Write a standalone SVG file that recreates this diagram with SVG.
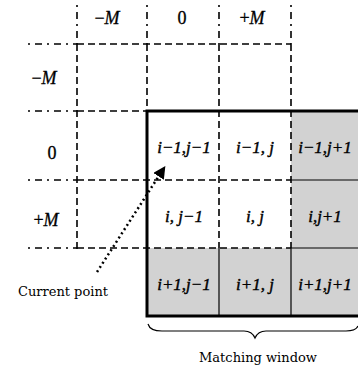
<svg xmlns="http://www.w3.org/2000/svg" width="358" height="368" viewBox="0 0 358 368">
<defs>
<style>
.dash{stroke:#000;stroke-width:1.6;stroke-dasharray:7,4;fill:none}
.dd{stroke:#000;stroke-width:1.6;stroke-dasharray:2,5,7,5;fill:none}
.thick{stroke:#000;stroke-width:3;fill:none}
.thin{stroke:#000;stroke-width:1.2;fill:none}
.lab{font-family:"Liberation Serif",serif;font-size:18px;text-anchor:middle;fill:#000;stroke:#000;stroke-width:0.3}
.cell{font-family:"Liberation Serif",serif;font-size:17px;font-style:italic;text-anchor:middle;fill:#000;stroke:#000;stroke-width:0.4}
.cap{font-family:"DejaVu Serif",serif;font-size:13px;text-anchor:middle;fill:#000}
</style>
<marker id="ah" viewBox="0 0 10 10" refX="8" refY="5" markerWidth="5" markerHeight="5" orient="auto">
<path d="M0,0 L10,5 L0,10 z" fill="#000"/>
</marker>
</defs>
<rect width="358" height="368" fill="#fff"/>
<g id="shading">
<rect x="291" y="111" width="67" height="205" fill="#d2d2d2"/>
<rect x="147" y="248" width="144" height="68" fill="#d2d2d2"/>
</g>
<g id="grid">
<line class="dd" x1="77" y1="5" x2="77" y2="44"/>
<line class="dd" x1="147" y1="5" x2="147" y2="44"/>
<line class="dd" x1="219" y1="5" x2="219" y2="44"/>
<line class="dd" x1="291" y1="5" x2="291" y2="44"/>
<line class="dash" x1="77" y1="44" x2="77" y2="252"/>
<line class="dash" x1="147" y1="44" x2="147" y2="111"/>
<line class="dash" x1="219" y1="44" x2="219" y2="248"/>
<line class="dash" x1="291" y1="44" x2="291" y2="248"/>
<line class="dd" x1="28" y1="44" x2="77" y2="44"/>
<line class="dd" x1="28" y1="111" x2="77" y2="111"/>
<line class="dd" x1="28" y1="180" x2="77" y2="180"/>
<line class="dd" x1="28" y1="248" x2="77" y2="248"/>
<line class="dash" x1="77" y1="44" x2="291" y2="44"/>
<line class="dash" x1="77" y1="111" x2="147" y2="111"/>
<line class="dash" x1="77" y1="180" x2="291" y2="180"/>
<line class="dash" x1="77" y1="248" x2="291" y2="248"/>
<line class="thin" x1="291" y1="180" x2="358" y2="180"/>
<line class="thin" x1="291" y1="248" x2="358" y2="248"/>
<line class="thin" x1="219" y1="248" x2="219" y2="316"/>
<line class="thin" x1="291" y1="248" x2="291" y2="316"/>
</g>
<g id="window">
<rect class="thick" x="147" y="111" width="214" height="205"/>
</g>
<g id="labels">
<text class="lab" x="107" y="24"><tspan>−</tspan><tspan font-style="italic">M</tspan></text>
<text class="lab" x="182" y="24">0</text>
<text class="lab" x="252" y="24"><tspan>+</tspan><tspan font-style="italic">M</tspan></text>
<text class="lab" x="44" y="84"><tspan>−</tspan><tspan font-style="italic">M</tspan></text>
<text class="lab" x="52" y="159">0</text>
<text class="lab" x="46" y="226"><tspan>+</tspan><tspan font-style="italic">M</tspan></text>
</g>
<g id="cells">
<text class="cell" x="184" y="153">i−1,j−1</text>
<text class="cell" x="255" y="153">i−1, j</text>
<text class="cell" x="325" y="153">i−1,j+1</text>
<text class="cell" x="184" y="222">i, j−1</text>
<text class="cell" x="255" y="222">i, j</text>
<text class="cell" x="325" y="222">i,j+1</text>
<text class="cell" x="184" y="290">i+1,j−1</text>
<text class="cell" x="255" y="290">i+1, j</text>
<text class="cell" x="325" y="290">i+1,j+1</text>
</g>
<g id="connectors">
<line x1="97" y1="272" x2="164" y2="168" stroke="#000" stroke-width="2.5" stroke-dasharray="2,3" marker-end="url(#ah)"/>
<path class="thin" d="M148,324 Q150,331 162,331 L244,331 Q252,331 255,338 Q258,331 266,331 L346,331 Q356,331 358,326"/>
</g>
<g id="captions">
<text class="cap" x="63" y="296">Current point</text>
<text class="cap" x="258" y="362" font-size="14">Matching window</text>
</g>
</svg>
